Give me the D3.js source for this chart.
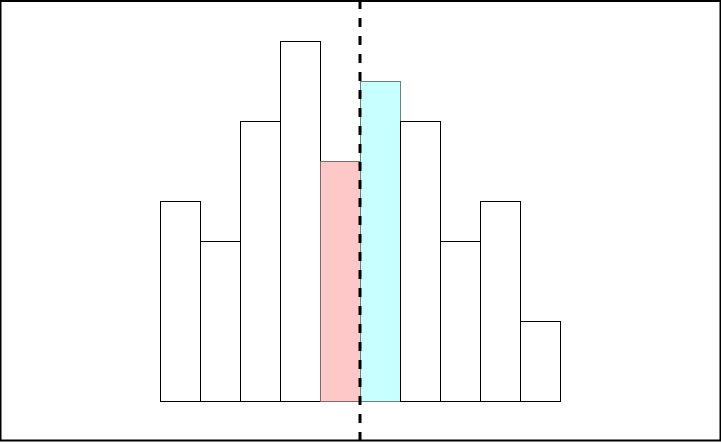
<!DOCTYPE html>
<html><head><meta charset="utf-8">
<script src="https://cdn.jsdelivr.net/npm/d3@7"></script>
<style>body{margin:0;background:#fff}svg{display:block}</style>
</head><body>
<script>
const categories = ["1","2","3","4","5","6","7","8","9","10"];
const values = [5, 4, 7, 9, 6, 8, 7, 4, 5, 2];
const highlight = ["none","none","none","none","left","right","none","none","none","none"];
const splitAt = 5; // boundary index between bar 5 and 6

const W = 721, H = 444;
const svg = d3.select("body").append("svg").attr("width", W).attr("height", H);

svg.append("rect").attr("x", 0.5).attr("y", 1).attr("width", 720).attr("height", 439.5)
  .attr("fill", "#fff").attr("stroke", "#000").attr("stroke-width", 2);

const x = d3.scaleBand().domain(categories).range([160, 560]).padding(0);
const y = d3.scaleLinear().domain([0, 10]).range([401, 1]);

const fills = {none: "#fff", left: "#ffc8c8", right: "#c8ffff"};
const strokes = {none: "#000", left: "#7a6a6a", right: "#6a8080"};

svg.append("g").selectAll("rect").data(values).join("rect")
  .attr("x", (d, i) => x(categories[i]) + 0.5)
  .attr("y", d => y(d) + 0.5)
  .attr("width", x.bandwidth())
  .attr("height", d => y(0) - y(d))
  .attr("fill", (d, i) => fills[highlight[i]])
  .attr("stroke", (d, i) => strokes[highlight[i]])
  .attr("stroke-width", 1);

const xs = x(categories[splitAt]);
svg.append("line").attr("x1", xs).attr("x2", xs).attr("y1", 0).attr("y2", H)
  .attr("stroke", "#000").attr("stroke-width", 3).attr("stroke-dasharray", "9,9");
</script>
</body></html>
